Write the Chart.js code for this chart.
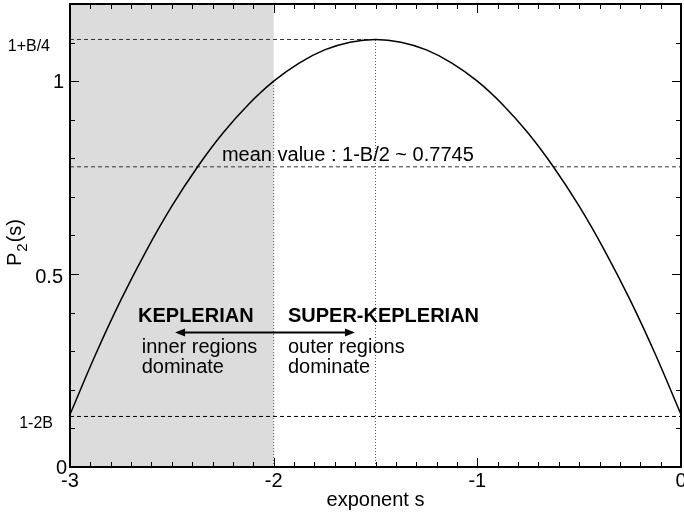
<!DOCTYPE html>
<html>
<head>
<meta charset="utf-8">
<script src="https://cdn.jsdelivr.net/npm/chart.js@4.4.1/dist/chart.umd.min.js"></script>
<style>
  html, body { margin: 0; padding: 0; background: #fff; }
  #wrap { width: 684px; height: 515px; }
</style>
</head>
<body>
<div id="wrap"><canvas id="myChart" width="684" height="515"></canvas></div>
<script>
'use strict';

// curve, s steps of 0.125
const exponentS = [-3, -2.875, -2.75, -2.625, -2.5, -2.375, -2.25, -2.125, -2, -1.875, -1.75, -1.625, -1.5,
  -1.375, -1.25, -1.125, -1, -0.875, -0.75, -0.625, -0.5, -0.375, -0.25, -0.125, 0];
const p2Values = [0.136, 0.291, 0.433, 0.561, 0.676, 0.777, 0.865, 0.939, 1.0, 1.047, 1.081, 1.101, 1.108,
  1.101, 1.081, 1.047, 1.0, 0.939, 0.865, 0.777, 0.676, 0.561, 0.433, 0.291, 0.136];

// reference levels
const levelTop = 1.108;     // 1+B/4
const levelMean = 0.778;    // 1-B/2
const levelLow = 0.131;     // 1-2B
const peakS = -1.5;
const keplerEdge = -2;

const xTicks = [-3, -2, -1, 0];
const yTicks = [0, 0.5, 1];
const yTickLabels = ['0', '0.5', '1'];
const yExtraLabels = [['1+B/4', levelTop], ['1-2B', levelLow]];

const fontName = '"Liberation Sans", Arial, Helvetica, sans-serif';

function pts(xs, ys) {
  let out = [];
  for (let i = 0; i < xs.length; i++) {
    out.push({ x: xs[i], y: ys[i] });
  }
  return out;
}

// grey shaded band + frame, ticks, labels
const decorations = {
  id: 'decorations',
  beforeDatasetsDraw(chart) {
    const ctx = chart.ctx;
    const x = chart.scales.x;
    const a = chart.chartArea;
    ctx.save();
    ctx.fillStyle = '#dcdcdc';
    ctx.fillRect(x.getPixelForValue(-3), a.top, x.getPixelForValue(keplerEdge) - x.getPixelForValue(-3), a.bottom - a.top);
    ctx.restore();
  },
  afterDraw(chart) {
    const ctx = chart.ctx;
    const x = chart.scales.x;
    const y = chart.scales.y;
    const a = chart.chartArea;
    ctx.save();
    ctx.strokeStyle = '#000';
    ctx.lineWidth = 1;

    // minor / major ticks on all four sides
    ctx.beginPath();
    for (let i = 0; i <= 30; i++) {
      let v = -3 + i * 0.1;
      let px = Math.round(x.getPixelForValue(v)) + 0.5;
      let len = (i % 10 === 0) ? 9 : 5;
      ctx.moveTo(px, a.bottom); ctx.lineTo(px, a.bottom - len);
      ctx.moveTo(px, a.top); ctx.lineTo(px, a.top + len);
    }
    for (let i = 0; i <= 12; i++) {
      let v = i * 0.1;
      let py = Math.round(y.getPixelForValue(v)) + 0.5;
      let len = (i % 5 === 0) ? 9 : 5;
      ctx.moveTo(a.left, py); ctx.lineTo(a.left + len, py);
      ctx.moveTo(a.right, py); ctx.lineTo(a.right - len, py);
    }
    ctx.stroke();

    // frame
    ctx.lineWidth = 2;
    ctx.strokeRect(a.left, a.top, a.right - a.left, a.bottom - a.top);

    ctx.fillStyle = '#000';
    // x tick labels
    ctx.font = '20px ' + fontName;
    ctx.textAlign = 'center';
    ctx.textBaseline = 'alphabetic';
    for (let i = 0; i < xTicks.length; i++) {
      ctx.fillText(String(xTicks[i]), x.getPixelForValue(xTicks[i]), a.bottom + 20);
    }
    // y tick labels
    ctx.textAlign = 'right';
    ctx.fillText('1', a.left - 6, y.getPixelForValue(1) + 7);
    ctx.fillText('0.5', a.left - 7, y.getPixelForValue(0.5) + 9);
    ctx.fillText('0', a.left - 3, y.getPixelForValue(0) + 7);
    ctx.font = '16px ' + fontName;
    ctx.fillText(yExtraLabels[0][0], a.left - 20, y.getPixelForValue(yExtraLabels[0][1]) + 12);
    ctx.fillText(yExtraLabels[1][0], a.left - 17, y.getPixelForValue(yExtraLabels[1][1]) + 12);

    // axis titles
    ctx.font = '20px ' + fontName;
    ctx.textAlign = 'center';
    ctx.fillText('exponent s', x.getPixelForValue(-1.5), a.bottom + 39);

    ctx.save();
    ctx.translate(21, 266);
    ctx.rotate(-Math.PI / 2);
    ctx.textAlign = 'left';
    ctx.font = '20px ' + fontName;
    let wP = ctx.measureText('P').width;
    ctx.fillText('P', 0, 0);
    ctx.font = '15px ' + fontName;
    ctx.fillText('2', wP + 1, 6);
    let w2 = ctx.measureText('2').width;
    ctx.font = '20px ' + fontName;
    ctx.fillText('(s)', wP + w2 + 2, 0);
    ctx.restore();

    // mean value text
    ctx.font = '20px ' + fontName;
    ctx.textAlign = 'left';
    ctx.fillText('mean value : 1-B/2 ~ 0.7745', x.getPixelForValue(-2.254), y.getPixelForValue(levelMean) - 6);

    // regime labels
    ctx.font = 'bold 20px ' + fontName;
    ctx.fillText('KEPLERIAN', x.getPixelForValue(-2.666), y.getPixelForValue(0.377));
    ctx.fillText('SUPER-KEPLERIAN', x.getPixelForValue(-1.93), y.getPixelForValue(0.377));
    ctx.font = '20px ' + fontName;
    ctx.fillText('inner regions', x.getPixelForValue(-2.648), y.getPixelForValue(0.295));
    ctx.fillText('dominate', x.getPixelForValue(-2.648), y.getPixelForValue(0.244));
    ctx.fillText('outer regions', x.getPixelForValue(-1.93), y.getPixelForValue(0.295));
    ctx.fillText('dominate', x.getPixelForValue(-1.93), y.getPixelForValue(0.244));

    // double arrow
    let ay = Math.round(y.getPixelForValue(0.349)) + 0.5;
    let ax1 = x.getPixelForValue(-2.484);
    let ax2 = x.getPixelForValue(-1.601);
    ctx.lineWidth = 2;
    ctx.beginPath();
    ctx.moveTo(ax1 + 4, ay); ctx.lineTo(ax2 - 4, ay);
    ctx.stroke();
    ctx.beginPath();
    ctx.moveTo(ax1, ay); ctx.lineTo(ax1 + 10, ay - 4); ctx.lineTo(ax1 + 10, ay + 4); ctx.closePath();
    ctx.moveTo(ax2, ay); ctx.lineTo(ax2 - 10, ay - 4); ctx.lineTo(ax2 - 10, ay + 4); ctx.closePath();
    ctx.fill();

    ctx.restore();
  }
};

new Chart(document.getElementById('myChart'), {
  type: 'line',
  data: {
    datasets: [{
      label: 'P2(s)',
      data: pts(exponentS, p2Values),
      borderColor: '#000',
      borderWidth: 1.5,
      pointRadius: 0,
      tension: 0.4,
      fill: false
    }, {
      label: '1+B/4',
      data: pts([-3, peakS], [levelTop, levelTop]),
      borderColor: '#333',
      borderWidth: 1,
      borderDash: [4, 3],
      pointRadius: 0
    }, {
      label: 'mean',
      data: pts([-3, 0], [levelMean, levelMean]),
      borderColor: '#333',
      borderWidth: 1,
      borderDash: [4, 3],
      pointRadius: 0
    }, {
      label: '1-2B',
      data: pts([-3, 0], [levelLow, levelLow]),
      borderColor: '#000',
      borderWidth: 1,
      borderDash: [4, 3],
      pointRadius: 0
    }, {
      label: 'edge',
      data: pts([keplerEdge, keplerEdge], [0, 1.0]),
      borderColor: '#555',
      borderWidth: 1,
      borderDash: [1, 2],
      pointRadius: 0
    }, {
      label: 'peak',
      data: pts([peakS, peakS], [0, levelTop]),
      borderColor: '#555',
      borderWidth: 1,
      borderDash: [1, 2],
      pointRadius: 0
    }]
  },
  options: {
    responsive: false,
    animation: false,
    layout: { padding: { left: 70, right: 3, top: 4, bottom: 48 } },
    plugins: { legend: { display: false }, tooltip: { enabled: false } },
    scales: {
      x: { type: 'linear', min: -3, max: 0, display: false },
      y: { min: 0, max: 1.2, display: false }
    }
  },
  plugins: [decorations]
});
</script>
</body>
</html>
